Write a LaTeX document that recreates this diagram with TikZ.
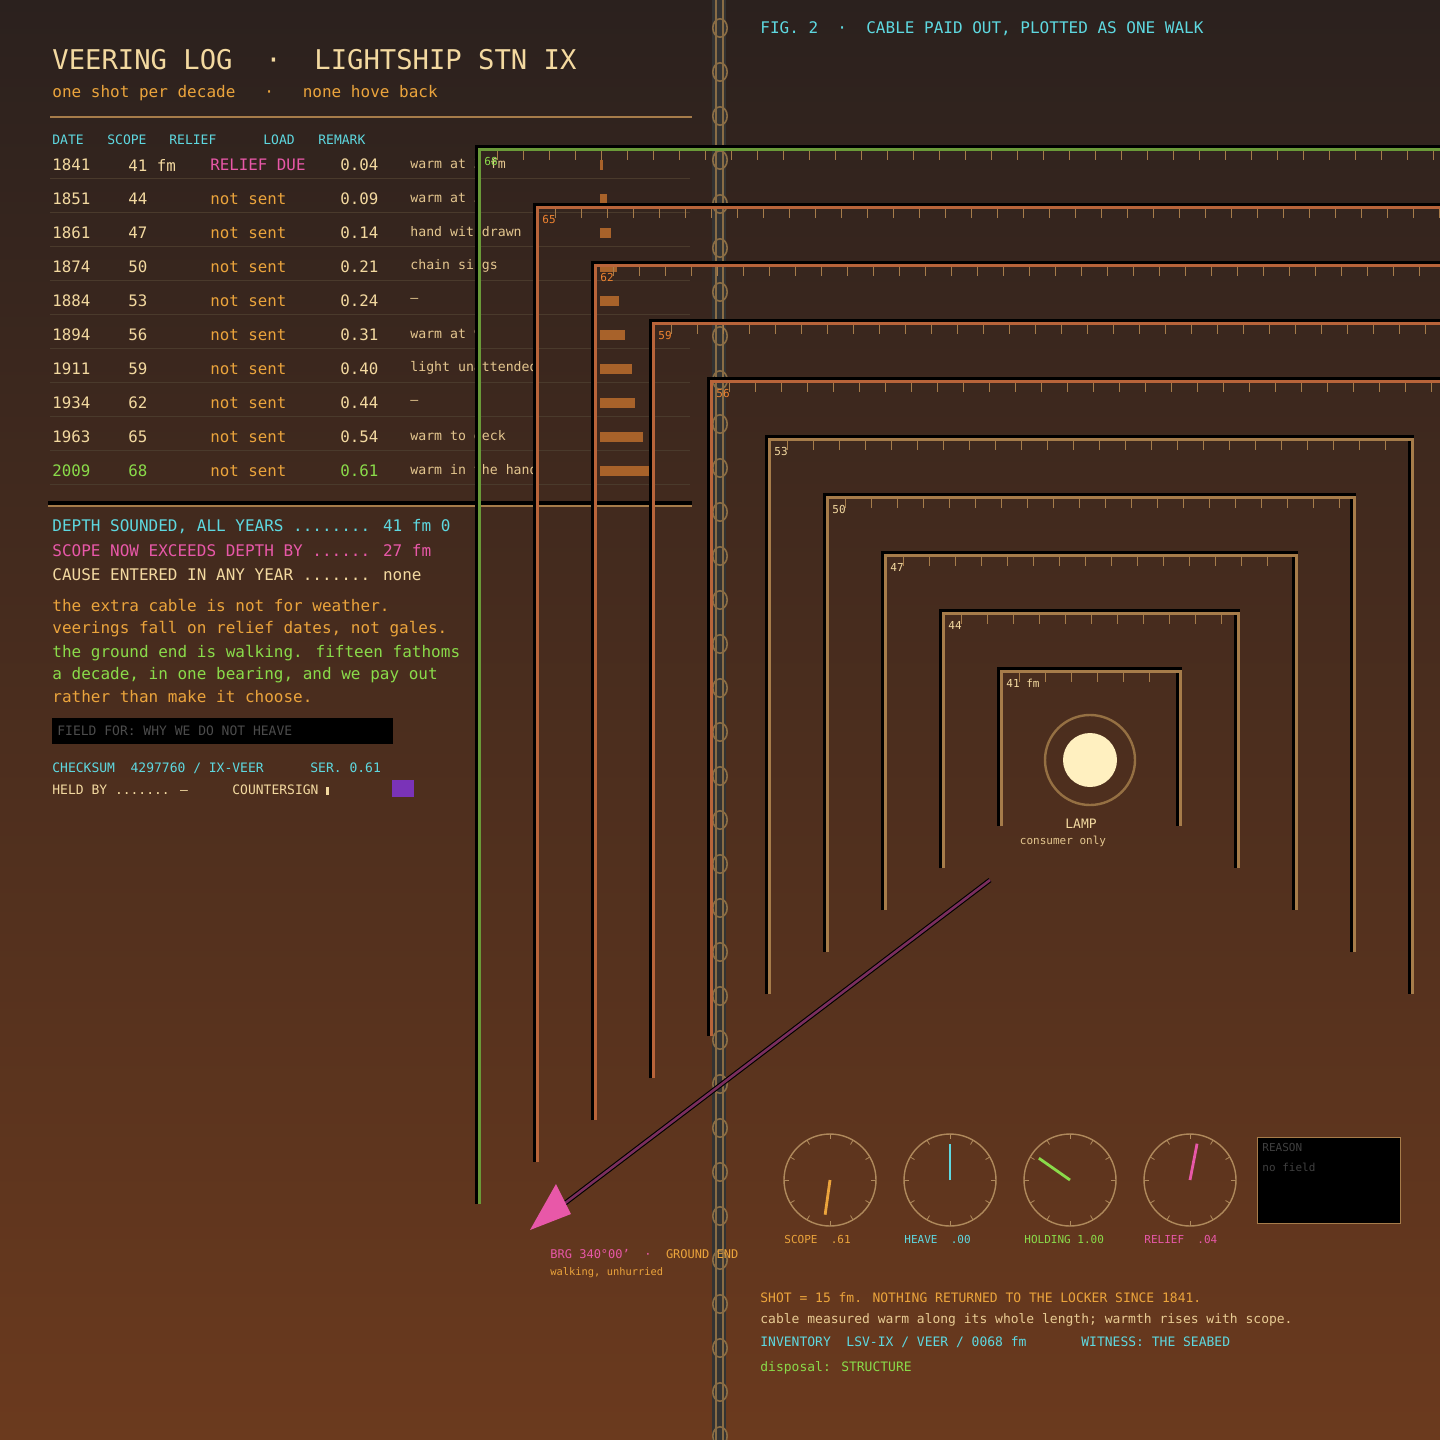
\documentclass[tikz,border=0pt]{standalone}
\usepackage{fontspec}
\setmainfont{DejaVu Sans Mono}
\usetikzlibrary{calc}
\definecolor{bgtop}{HTML}{2B211E}
\definecolor{bgmid}{HTML}{3A2920}
\definecolor{bgbot}{HTML}{6B3A1E}
\definecolor{cream}{HTML}{F3D9A0}
\definecolor{amber}{HTML}{EBA43C}
\definecolor{rose}{HTML}{E858A8}
\definecolor{aqua}{HTML}{5ED8E0}
\definecolor{lime}{HTML}{8ADB4A}
\definecolor{tan}{HTML}{A67C4A}
\definecolor{copper}{HTML}{B8643A}
\definecolor{moss}{HTML}{6A9A38}
\definecolor{rust}{HTML}{A8622A}
\definecolor{plum}{HTML}{7A2E5E}
\definecolor{rule}{HTML}{4A3A2C}
\definecolor{chain}{HTML}{8A6D45}
\definecolor{glow}{HTML}{FFF0C0}
\tikzset{
  txt/.style={anchor=west,inner sep=0pt},
  shadow/.style={line width=3pt,black},
}
\begin{document}
\begin{tikzpicture}[x=0.5pt,y=-0.5pt]
  \useasboundingbox (0,0) rectangle (1440,1440);
  \shade[top color=bgtop,middle color=bgmid,bottom color=bgbot] (0,0) rectangle (1440,1440);

  % heading
  \node[txt,text=cream,font=\fontsize{13.6}{14}\selectfont] (title) at (52,60) {VEERING LOG \ · \ LIGHTSHIP STN IX};
  \node[txt,text=amber,font=\fontsize{8}{9}\selectfont] (sub) at (52,93) {one shot per decade \ \ · \ \ none hove back};
  \draw[tan,line width=1pt] (50,117) -- (692,117);

  % table
  \foreach \lab/\x in {DATE/52,SCOPE/107,RELIEF/169,LOAD/263,REMARK/318}
    \node[txt,text=aqua,font=\fontsize{6.5}{7}\selectfont] at (\x,140) {\lab};
  \foreach \k/\yr/\sc/\ld/\rm in {0/1841/41 fm/0.04/warm at 3 fm,1/1851/44/0.09/warm at 5,
      2/1861/47/0.14/hand withdrawn,3/1874/50/0.21/chain sings,4/1884/53/0.24/–,
      5/1894/56/0.31/warm at 9,6/1911/59/0.40/light unattended,7/1934/62/0.44/–,
      8/1963/65/0.54/warm to deck,9/2009/68/0.61/warm in the hand}{
    \pgfmathsetmacro{\ry}{165+34*\k}
    \ifnum\k=9 \def\rc{lime}\else\def\rc{cream}\fi
    \node[txt,text=\rc,font=\fontsize{7.9}{9}\selectfont] at (52,\ry) {\yr};
    \node[txt,text=\rc,font=\fontsize{7.9}{9}\selectfont] at (128,\ry) {\sc};
    \node[txt,text=\rc,font=\fontsize{7.9}{9}\selectfont] at (340,\ry) {\ld};
    \node[txt,text=cream!80!tan,font=\fontsize{6.6}{8}\selectfont] at (410,\ry-1) {\rm};
    \ifnum\k=0
      \node[txt,text=rose,font=\fontsize{7.9}{9}\selectfont] at (210,\ry) {RELIEF DUE};
    \else
      \node[txt,text=amber,font=\fontsize{7.9}{9}\selectfont] at (210,\ry) {not sent};
    \fi
    \fill[rust] (600,\ry-5) rectangle ++(80*\ld,10);
    \draw[rule,line width=0.5pt] (50,\ry+13) -- (690,\ry+13);
  }
  \draw[black,line width=2pt] (48,503) -- (692,503);
  \draw[tan,line width=1pt] (48,506) -- (692,506);

  % findings
  \node[txt,text=aqua,font=\fontsize{8}{9}\selectfont] at (52,527) {DEPTH SOUNDED, ALL YEARS ........ 41 fm 0};
  \node[txt,text=rose,font=\fontsize{8}{9}\selectfont] at (52,551) {SCOPE NOW EXCEEDS DEPTH BY ...... 27 fm};
  \node[txt,text=cream,font=\fontsize{8}{9}\selectfont] at (52,575) {CAUSE ENTERED IN ANY YEAR ....... none};
  \node[txt,text=amber,font=\fontsize{8}{9}\selectfont] at (52,605) {the extra cable is not for weather.};
  \node[txt,text=amber,font=\fontsize{8}{9}\selectfont] at (52,629) {veerings fall on relief dates, not gales.};
  \node[txt,text=lime,font=\fontsize{8}{9}\selectfont] at (52,653) {the ground end is walking. fifteen fathoms};
  \node[txt,text=lime,font=\fontsize{8}{9}\selectfont] at (52,675) {a decade, in one bearing, and we pay out};
  \node[txt,text=amber,font=\fontsize{8}{9}\selectfont] at (52,697) {rather than make it choose.};
  \fill[black] (52,718) rectangle (393,744);
  \node[txt,text=white!30!black,font=\fontsize{6.5}{7}\selectfont] (field) at (57,731) {FIELD FOR: WHY WE DO NOT HEAVE};
  \node[txt,text=aqua,font=\fontsize{6.5}{7}\selectfont] (sum) at (52,768) {CHECKSUM \ 4297760 / IX-VEER};
  \node[txt,text=aqua,font=\fontsize{6.5}{7}\selectfont] (ser) at (310,768) {SER. 0.61};
  \node[txt,text=cream,font=\fontsize{6.5}{7}\selectfont] (held) at (52,790) {HELD BY ....... –};
  \node[txt,text=cream,font=\fontsize{6.5}{7}\selectfont] (sign) at (232,790) {COUNTERSIGN \rule{1.5pt}{4pt}};
  \fill[violet!70!blue!80] (392,780) rectangle (414,797);

  % chain
  \fill[black!80] (712,0) rectangle (726,1440);
  \draw[chain,line width=1.2pt] (716,0) -- (716,1440) (723,0) -- (723,1440);
  \foreach \k in {0,...,32}
    \draw[chain,line width=0.8pt] (720,28+44*\k) ellipse [x radius=3.6pt,y radius=4.6pt];

  \node[txt,text=aqua,font=\fontsize{8}{9}\selectfont] (fig) at (760,29) {FIG. 2 \ · \ CABLE PAID OUT, PLOTTED AS ONE WALK};

  % frames, outermost first
  \foreach \i in {9,...,0}{
    \pgfmathsetmacro{\w}{89.5+58*\i}
    \pgfmathsetmacro{\ty}{671-58*\i}
    \pgfmathsetmacro{\by}{826+42*\i}
    \pgfmathsetmacro{\lx}{1090.5-\w}
    \pgfmathsetmacro{\rx}{1090.5+\w}
    \pgfmathtruncatemacro{\sc}{41+3*\i}
    \pgfmathtruncatemacro{\nt}{(2*\w)/26}
    \ifnum\i=9 \def\fc{moss}\def\lc{lime}\else\ifnum\i>4 \def\fc{copper}\def\lc{amber!80!red}\else\def\fc{tan}\def\lc{cream}\fi\fi
    \draw[shadow] (\lx-1,\by) -- (\lx-1,\ty-1) -- (\rx-1,\ty-1) -- (\rx-1,\by);
    \draw[\fc,line width=1.5pt] (\lx,\by) -- (\lx,\ty) -- (\rx,\ty) -- (\rx,\by);
    \foreach \t in {1,...,\nt}
      \draw[tan,line width=0.5pt] (\lx+26*\t-8,\ty+2) -- ++(0,9);
    \ifnum\i=0
      \node[txt,text=\lc,font=\fontsize{5.5}{6}\selectfont] at (1006,683) {41 fm};
    \else
      \node[txt,text=\lc,font=\fontsize{5.5}{6}\selectfont] at (\lx+5,\ty+12) {\sc};
    \fi
  }

  % lamp
  \draw[tan!90!black,line width=1.2pt] (1090,760) circle (22.5pt);
  \fill[glow] (1090,760) circle (13.5pt);
  \node[text=cream,font=\fontsize{6.5}{7}\selectfont,inner sep=0pt] (lamp) at (1081,824) {LAMP};
  \node[text=cream!80!tan,font=\fontsize{5.5}{6}\selectfont,inner sep=0pt] (use) at (1063,841) {consumer only};

  % ground end
  \coordinate (walk) at (990,880);
  \coordinate (ground) at (530,1230);
  \draw[shadow,line width=2.4pt] (walk) -- (560,1207);
  \draw[plum,line width=1.3pt] (walk) -- (560,1207);
  \fill[rose] (ground) -- (556,1184) -- (571,1214) -- cycle;
  \node[txt,text=rose,font=\fontsize{6}{7}\selectfont] (brg) at (550,1254) {BRG 340°00' \ · \ \textcolor{amber}{GROUND END}};
  \node[txt,text=amber,font=\fontsize{5.2}{6}\selectfont] (walking) at (550,1273) {walking, unhurried};

  % dials
  \foreach \cx/\ang/\len/\col/\lab in {830/98/35/amber/SCOPE \ .61,950/-90/36/aqua/HEAVE \ .00,
      1070/-145/38/lime/HOLDING 1.00,1190/-79/37/rose/RELIEF \ .04}{
    \draw[tan!90!white,line width=0.7pt] (\cx,1180) circle (23pt);
    \foreach \a in {0,30,...,330}
      \draw[tan!90!white,line width=0.4pt] ($(\cx,1180)+(\a:46)$) -- ($(\cx,1180)+(\a:41)$);
    \draw[\col,line width=1.4pt] (\cx,1180) -- ++(\ang:\len);
    \node[txt,text=\col,font=\fontsize{5.5}{6}\selectfont] at (\cx-46,1239) {\lab};
  }
  \draw[tan,fill=black,line width=0.5pt] (1257,1137) rectangle (1400,1223);
  \node[txt,text=white!25!black,font=\fontsize{5.5}{6}\selectfont] (reason) at (1262,1147) {REASON};
  \node[txt,text=white!25!black,font=\fontsize{5.5}{6}\selectfont] (nofield) at (1262,1167) {no field};

  % footnote
  \node[txt,text=amber,font=\fontsize{6.5}{7}\selectfont] (shot) at (760,1298) {SHOT = 15 fm. NOTHING RETURNED TO THE LOCKER SINCE 1841.};
  \node[txt,text=cream!85!tan,font=\fontsize{6.5}{7}\selectfont] (warm) at (760,1320) {cable measured warm along its whole length; warmth rises with scope.};
  \node[txt,text=aqua,font=\fontsize{6.5}{7}\selectfont] (inv) at (760,1342) {INVENTORY \ LSV-IX / VEER / 0068 fm};
  \node[txt,text=aqua,font=\fontsize{6.5}{7}\selectfont] (wit) at (1081,1342) {WITNESS: THE SEABED};
  \node[txt,text=lime,font=\fontsize{6.5}{7}\selectfont] (disp) at (760,1368) {disposal: STRUCTURE};
\end{tikzpicture}
\end{document}
